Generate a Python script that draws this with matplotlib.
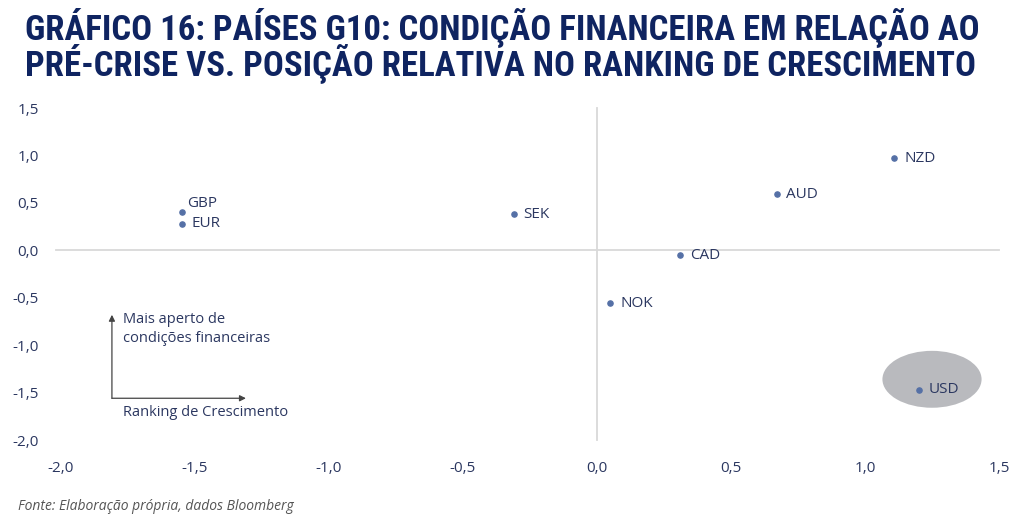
"""
G10 scatter: financial conditions vs pre-crisis against growth ranking
"""

import matplotlib
matplotlib.use('Agg')
import matplotlib.pyplot as plt
from matplotlib.patches import Ellipse

# data
currencies = ['GBP', 'EUR', 'SEK', 'AUD', 'NZD', 'CAD', 'NOK', 'USD']
growth_rank = [-1.55, -1.55, -0.31, 0.67, 1.11, 0.31, 0.05, 1.20]
fin_condition = [0.40, 0.28, 0.38, 0.59, 0.97, -0.05, -0.56, -1.47]

x_ticks = [-2.0, -1.5, -1.0, -0.5, 0.0, 0.5, 1.0, 1.5]
y_ticks = [-2.0, -1.5, -1.0, -0.5, 0.0, 0.5, 1.0, 1.5]

TITLE = ('GRÁFICO 16: PAÍSES G10: CONDIÇÃO FINANCEIRA EM RELAÇÃO AO\n'
         'PRÉ-CRISE VS. POSIÇÃO RELATIVA NO RANKING DE CRESCIMENTO')
SOURCE = 'Fonte: Elaboração própria, dados Bloomberg'

NAVY = '#0f2461'
TEXT = '#2b3760'
DOT = '#5570a6'
GRID = '#d9d9d9'

plt.rcParams['font.family'] = ['Open Sans', 'DejaVu Sans']

fig = plt.figure(figsize=(10.24, 5.27), dpi=100)
ax = fig.add_axes([61 / 1024, 1 - 440 / 527, 938 / 1024, 332 / 527])

ax.set_xlim(-2.0, 1.5)
ax.set_ylim(-2.0, 1.5)
for s in ax.spines.values():
    s.set_visible(False)

# zero lines
ax.plot([-2.02, 1.5], [0, 0], color=GRID, lw=1.3, zorder=1, clip_on=False)
ax.plot([0, 0], [-2.0, 1.5], color=GRID, lw=1.3, zorder=1, clip_on=False)

# highlight around USD
ax.add_patch(Ellipse((1.25, -1.36), 0.37, 0.60, facecolor='#b9babe',
                     edgecolor='none', zorder=1))

ax.scatter(growth_rank, fin_condition, s=14, color=DOT, zorder=3)
for name, x, y in zip(currencies, growth_rank, fin_condition):
    if name == 'GBP':
        ax.annotate(name, (x, y), xytext=(4, 1), textcoords='offset points',
                    fontsize=11, color=TEXT, va='bottom', ha='left')
    else:
        ax.annotate(name, (x, y), xytext=(7, 0), textcoords='offset points',
                    fontsize=11, color=TEXT, va='center', ha='left')

# direction arrows
arrow_style = dict(arrowstyle='-|>', color='#444444', lw=0.9,
                   mutation_scale=9, shrinkA=0, shrinkB=0)
ax.annotate('', xy=(-1.81, -0.68), xytext=(-1.81, -1.56),
            arrowprops=arrow_style)
ax.annotate('', xy=(-1.31, -1.56), xytext=(-1.81, -1.56),
            arrowprops=arrow_style)
ax.text(-1.77, -0.83, 'Mais aperto de\ncondições financeiras', fontsize=10.5,
        color=TEXT, va='center', ha='left', linespacing=1.35)
ax.text(-1.77, -1.71, 'Ranking de Crescimento', fontsize=10.5, color=TEXT,
        va='center', ha='left')

ax.set_xticks(x_ticks)
ax.set_yticks(y_ticks)
ax.set_xticklabels([f'{v:.1f}'.replace('.', ',') for v in x_ticks])
ax.set_yticklabels([f'{v:.1f}'.replace('.', ',') for v in y_ticks])
ax.tick_params(length=0, labelsize=11, labelcolor=TEXT)
ax.tick_params(axis='x', pad=15)
ax.tick_params(axis='y', pad=16)

fig.text(25 / 1024, 1 - 45 / 527, TITLE, fontsize=25, fontweight='bold',
         color=NAVY, family=['Roboto Condensed', 'Roboto', 'DejaVu Sans'],
         va='center', ha='left', linespacing=0.88)
fig.text(18 / 1024, 1 - 506 / 527, SOURCE, fontsize=10, style='italic',
         color='#555555', va='center', ha='left')

fig.savefig('out.png', dpi=100, facecolor='white')
